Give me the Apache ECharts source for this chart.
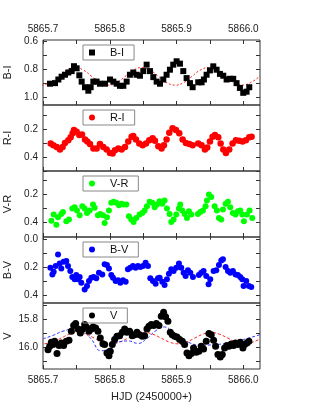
<!DOCTYPE html>
<html><head><meta charset="utf-8">
<script src="https://cdn.jsdelivr.net/npm/echarts@6/dist/echarts.min.js"></script>
<style>html,body{margin:0;padding:0;background:#fff}#c{width:311px;height:402px}</style>
</head><body><div id="c"></div>
<script>
// ---- data: [HJD, value] ----
const biData = [[5865.7105,0.900],[5865.7180,0.896],[5865.7230,0.870],[5865.7279,0.850],[5865.7329,0.836],[5865.7379,0.820],[5865.7429,0.810],[5865.7464,0.775],[5865.7504,0.790],[5865.7544,0.840],[5865.7579,0.885],[5865.7629,0.925],[5865.7679,0.950],[5865.7714,0.925],[5865.7754,0.885],[5865.7803,0.885],[5865.7853,0.900],[5865.7928,0.900],[5865.8003,0.870],[5865.8053,0.885],[5865.8103,0.900],[5865.8153,0.915],[5865.8203,0.915],[5865.8253,0.885],[5865.8302,0.836],[5865.8352,0.820],[5865.8402,0.836],[5865.8452,0.843],[5865.8502,0.810],[5865.8552,0.764],[5865.8602,0.810],[5865.8652,0.853],[5865.8702,0.885],[5865.8752,0.900],[5865.8801,0.870],[5865.8851,0.836],[5865.8901,0.800],[5865.8951,0.764],[5865.9001,0.740],[5865.9051,0.757],[5865.9101,0.810],[5865.9151,0.860],[5865.9201,0.896],[5865.9241,0.925],[5865.9325,0.890],[5865.9375,0.890],[5865.9410,0.870],[5865.9450,0.836],[5865.9500,0.805],[5865.9550,0.776],[5865.9600,0.800],[5865.9650,0.830],[5865.9700,0.843],[5865.9750,0.870],[5865.9799,0.865],[5865.9849,0.865],[5865.9899,0.896],[5865.9949,0.930],[5865.9999,0.965],[5866.0049,0.957],[5866.0089,0.925]];
const riData = [[5865.7115,0.304],[5865.7155,0.316],[5865.7205,0.328],[5865.7254,0.347],[5865.7294,0.328],[5865.7329,0.300],[5865.7379,0.280],[5865.7414,0.260],[5865.7444,0.230],[5865.7464,0.207],[5865.7504,0.220],[5865.7544,0.243],[5865.7584,0.239],[5865.7629,0.275],[5865.7664,0.290],[5865.7704,0.308],[5865.7754,0.340],[5865.7803,0.340],[5865.7853,0.308],[5865.7903,0.328],[5865.7953,0.347],[5865.8003,0.371],[5865.8043,0.376],[5865.8078,0.352],[5865.8128,0.340],[5865.8178,0.347],[5865.8228,0.328],[5865.8277,0.290],[5865.8327,0.255],[5865.8352,0.250],[5865.8392,0.275],[5865.8442,0.304],[5865.8492,0.316],[5865.8542,0.304],[5865.8592,0.280],[5865.8642,0.267],[5865.8677,0.284],[5865.8727,0.323],[5865.8776,0.340],[5865.8811,0.316],[5865.8851,0.275],[5865.8891,0.227],[5865.8941,0.195],[5865.8991,0.207],[5865.9041,0.231],[5865.9091,0.275],[5865.9141,0.300],[5865.9191,0.308],[5865.9241,0.316],[5865.9325,0.304],[5865.9375,0.316],[5865.9425,0.347],[5865.9460,0.333],[5865.9500,0.290],[5865.9540,0.255],[5865.9575,0.243],[5865.9625,0.260],[5865.9660,0.304],[5865.9700,0.347],[5865.9740,0.371],[5865.9789,0.347],[5865.9839,0.304],[5865.9889,0.280],[5865.9939,0.284],[5865.9989,0.290],[5866.0039,0.280],[5866.0089,0.260],[5866.0124,0.255]];
const vrData = [[5865.7125,0.386],[5865.7160,0.342],[5865.7200,0.414],[5865.7225,0.361],[5865.7274,0.337],[5865.7299,0.323],[5865.7349,0.390],[5865.7389,0.378],[5865.7439,0.299],[5865.7474,0.289],[5865.7509,0.313],[5865.7549,0.347],[5865.7589,0.282],[5865.7624,0.299],[5865.7659,0.330],[5865.7699,0.313],[5865.7749,0.270],[5865.7773,0.294],[5865.7823,0.347],[5865.7858,0.337],[5865.7898,0.347],[5865.7923,0.402],[5865.7958,0.361],[5865.7988,0.313],[5865.8023,0.258],[5865.8058,0.251],[5865.8098,0.258],[5865.8138,0.275],[5865.8173,0.265],[5865.8208,0.270],[5865.8248,0.270],[5865.8287,0.354],[5865.8322,0.378],[5865.8357,0.395],[5865.8397,0.366],[5865.8447,0.342],[5865.8487,0.330],[5865.8522,0.313],[5865.8557,0.282],[5865.8597,0.251],[5865.8637,0.258],[5865.8672,0.289],[5865.8707,0.270],[5865.8747,0.246],[5865.8786,0.265],[5865.8821,0.241],[5865.8856,0.299],[5865.8896,0.337],[5865.8921,0.395],[5865.8956,0.378],[5865.8996,0.342],[5865.9036,0.299],[5865.9056,0.270],[5865.9086,0.313],[5865.9121,0.337],[5865.9156,0.366],[5865.9186,0.318],[5865.9221,0.342],[5865.9320,0.337],[5865.9355,0.323],[5865.9395,0.313],[5865.9435,0.282],[5865.9455,0.241],[5865.9485,0.198],[5865.9520,0.217],[5865.9570,0.282],[5865.9605,0.313],[5865.9635,0.366],[5865.9670,0.378],[5865.9695,0.306],[5865.9735,0.265],[5865.9770,0.251],[5865.9804,0.289],[5865.9844,0.330],[5865.9884,0.342],[5865.9919,0.318],[5865.9954,0.313],[5865.9984,0.342],[5866.0009,0.390],[5866.0054,0.342],[5866.0094,0.313],[5866.0134,0.366]];
const bvData = [[5865.7110,0.200],[5865.7140,0.248],[5865.7160,0.229],[5865.7190,0.188],[5865.7225,0.105],[5865.7250,0.171],[5865.7274,0.205],[5865.7309,0.157],[5865.7349,0.152],[5865.7374,0.188],[5865.7409,0.224],[5865.7439,0.267],[5865.7474,0.283],[5865.7499,0.252],[5865.7524,0.283],[5865.7549,0.267],[5865.7574,0.307],[5865.7624,0.355],[5865.7659,0.331],[5865.7689,0.295],[5865.7724,0.271],[5865.7758,0.267],[5865.7798,0.276],[5865.7838,0.236],[5865.7888,0.248],[5865.7923,0.176],[5865.7958,0.181],[5865.7988,0.205],[5865.8023,0.252],[5865.8048,0.271],[5865.8088,0.295],[5865.8123,0.290],[5865.8158,0.307],[5865.8198,0.290],[5865.8238,0.300],[5865.8272,0.212],[5865.8307,0.200],[5865.8347,0.188],[5865.8387,0.200],[5865.8422,0.188],[5865.8457,0.195],[5865.8497,0.188],[5865.8537,0.164],[5865.8572,0.188],[5865.8607,0.276],[5865.8647,0.295],[5865.8687,0.314],[5865.8722,0.276],[5865.8747,0.271],[5865.8786,0.300],[5865.8821,0.324],[5865.8856,0.283],[5865.8886,0.243],[5865.8921,0.212],[5865.8956,0.224],[5865.8996,0.200],[5865.9036,0.171],[5865.9071,0.200],[5865.9106,0.236],[5865.9136,0.260],[5865.9171,0.219],[5865.9206,0.236],[5865.9246,0.267],[5865.9335,0.252],[5865.9370,0.236],[5865.9405,0.224],[5865.9445,0.260],[5865.9480,0.319],[5865.9505,0.283],[5865.9555,0.224],[5865.9595,0.219],[5865.9635,0.181],[5865.9670,0.148],[5865.9695,0.140],[5865.9735,0.195],[5865.9770,0.224],[5865.9804,0.236],[5865.9844,0.224],[5865.9884,0.248],[5865.9919,0.252],[5865.9954,0.267],[5865.9984,0.283],[5866.0004,0.331],[5866.0044,0.295],[5866.0084,0.331],[5866.0119,0.338]];
const vData = [[5865.7075,16.017],[5865.7100,15.993],[5865.7125,15.964],[5865.7150,15.981],[5865.7175,15.957],[5865.7210,16.045],[5865.7240,15.988],[5865.7274,15.969],[5865.7309,15.988],[5865.7349,15.957],[5865.7389,15.950],[5865.7424,15.886],[5865.7459,15.845],[5865.7489,15.831],[5865.7524,15.869],[5865.7559,15.898],[5865.7589,15.874],[5865.7624,15.838],[5865.7649,15.855],[5865.7689,15.886],[5865.7724,15.869],[5865.7749,15.855],[5865.7788,15.862],[5865.7823,15.886],[5865.7858,15.933],[5865.7898,15.974],[5865.7923,15.981],[5865.7958,16.040],[5865.7988,16.060],[5865.8008,16.029],[5865.8038,15.981],[5865.8073,15.945],[5865.8108,15.921],[5865.8148,15.917],[5865.8188,15.893],[5865.8223,15.869],[5865.8257,15.893],[5865.8297,15.886],[5865.8337,15.917],[5865.8372,15.910],[5865.8407,15.893],[5865.8447,15.910],[5865.8487,15.921],[5865.8522,15.917],[5865.8557,15.869],[5865.8587,15.850],[5865.8622,15.838],[5865.8657,15.845],[5865.8697,15.831],[5865.8737,15.845],[5865.8771,15.779],[5865.8806,15.750],[5865.8836,15.783],[5865.8871,15.814],[5865.8906,15.893],[5865.8936,15.910],[5865.8971,15.921],[5865.9006,15.926],[5865.9046,15.945],[5865.9086,15.957],[5865.9121,15.981],[5865.9156,16.040],[5865.9186,16.060],[5865.9221,16.045],[5865.9255,16.005],[5865.9295,16.036],[5865.9335,16.029],[5865.9370,15.993],[5865.9405,16.012],[5865.9445,15.957],[5865.9485,15.902],[5865.9520,15.910],[5865.9555,15.950],[5865.9585,15.993],[5865.9620,16.052],[5865.9655,16.069],[5865.9685,16.052],[5865.9720,16.005],[5865.9754,15.988],[5865.9784,15.993],[5865.9819,15.976],[5865.9854,15.988],[5865.9884,15.969],[5865.9919,15.981],[5865.9954,15.964],[5865.9994,16.005],[5866.0019,15.981],[5866.0054,15.969],[5866.0084,15.957]];
// dashed model curves
const biFitRed = [[5865.698,0.910],[5865.7105,0.893],[5865.723,0.848],[5865.7355,0.803],[5865.748,0.785],[5865.7605,0.803],[5865.773,0.848],[5865.7855,0.893],[5865.798,0.910],[5865.8105,0.893],[5865.823,0.848],[5865.8355,0.803],[5865.848,0.785],[5865.8605,0.803],[5865.873,0.848],[5865.8855,0.893],[5865.898,0.910],[5865.9105,0.893],[5865.923,0.848],[5865.9355,0.803],[5865.948,0.785],[5865.9605,0.803],[5865.973,0.848],[5865.9855,0.893],[5865.998,0.910],[5866.0105,0.893],[5866.025,0.845]];
const vFitRed = [[5865.702,15.975],[5865.7145,15.963],[5865.727,15.935],[5865.7395,15.907],[5865.752,15.895],[5865.7645,15.907],[5865.777,15.935],[5865.7895,15.963],[5865.802,15.975],[5865.8145,15.963],[5865.827,15.935],[5865.8395,15.907],[5865.852,15.895],[5865.8645,15.907],[5865.877,15.935],[5865.8895,15.963],[5865.902,15.975],[5865.9145,15.963],[5865.927,15.935],[5865.9395,15.907],[5865.952,15.895],[5865.9645,15.907],[5865.977,15.935],[5865.9895,15.963],[5866.002,15.975],[5866.0145,15.963],[5866.025,15.940]];
const vFitBlue = [[5865.700,15.940],[5865.715,15.915],[5865.730,15.885],[5865.747,15.870],[5865.760,15.890],[5865.772,15.940],[5865.787,16.025],[5865.800,16.005],[5865.815,15.960],[5865.828,15.955],[5865.842,15.972],[5865.855,15.940],[5865.868,15.885],[5865.882,15.855],[5865.895,15.895],[5865.905,15.930],[5865.918,15.965],[5865.935,15.985],[5865.960,15.980],[5865.980,15.968],[5866.000,15.945],[5866.025,15.910]];
// tick labels
const xLabels = [5865.7, 5865.8, 5865.9, 5866.0];
const xTicks = [5865.7, 5865.75, 5865.8, 5865.85, 5865.9, 5865.95, 5866.0];
const panelNames = ['B-I', 'R-I', 'V-R', 'B-V', 'V'];
const yRanges = [[0.588, 1.052], [0.029, 0.5], [0.031, 0.502], [-0.019, 0.452], [15.684, 16.155]];
const yLabels = [[0.6, 0.8, 1.0], [0.2, 0.4], [0.2, 0.4], [0.0, 0.2, 0.4], [15.8, 16.0]];
const yTicks = [[0.6, 0.7, 0.8, 0.9, 1.0], [0.1, 0.2, 0.3, 0.4, 0.5], [0.1, 0.2, 0.3, 0.4], [0.0, 0.1, 0.2, 0.3, 0.4], [15.7, 15.8, 15.9, 16.0, 16.1]];

const FONT = 'Liberation Sans, Arial, sans-serif';
const tops = [40, 105, 171, 237, 303];
const bottoms = [105, 171, 237, 303, 369];
const chart = echarts.init(document.getElementById('c'), null, {renderer: 'canvas'});

const grid = tops.map((t, i) => ({left: 43, width: 217, top: t, height: bottoms[i] - t, show: true, borderColor: '#333', borderWidth: 1, containLabel: false, outerBoundsMode: 'none'}));
const xBase = (gi, showLabel, pos) => ({
  type: 'value', gridIndex: gi, position: pos, min: 5865.7, max: 5866.025,
  axisLine: {show: false}, splitLine: {show: false},
  axisTick: {show: true, inside: true, length: 4, customValues: xTicks, lineStyle: {color: '#333'}},
  axisLabel: {show: showLabel, customValues: xLabels, formatter: v => v.toFixed(1), fontSize: 10, color: '#222', fontFamily: FONT, margin: 6}
});
const xAxis = [0, 1, 2, 3, 4].map(i => {
  const a = xBase(i, i === 4, 'bottom');
  if (i === 4) { a.name = 'HJD (2450000+)'; a.nameLocation = 'middle'; a.nameGap = 22; a.nameTextStyle = {fontSize: 11, color: '#222', fontFamily: FONT}; }
  return a;
});
xAxis.push(xBase(0, true, 'top'));

const yAxis = [];
for (let i = 0; i < 5; i++) {
  const common = {type: 'value', gridIndex: i, inverse: true, min: yRanges[i][0], max: yRanges[i][1], splitLine: {show: false}, axisLine: {show: false}};
  yAxis.push(Object.assign({}, common, {
    position: 'left', name: panelNames[i], nameLocation: 'middle', nameGap: 30, nameRotate: 90, nameMoveOverlap: false,
    nameTextStyle: {fontSize: 11, color: '#222', fontFamily: FONT},
    axisTick: {show: true, inside: true, length: 4, customValues: yTicks[i], lineStyle: {color: '#333'}},
    axisLabel: {show: true, customValues: yLabels[i], formatter: v => v.toFixed(1), fontSize: 10, color: '#222', fontFamily: FONT, margin: 5}
  }));
  yAxis.push(Object.assign({}, common, {
    position: 'right',
    axisTick: {show: true, inside: true, length: 4, customValues: yTicks[i], lineStyle: {color: '#333'}},
    axisLabel: {show: false}
  }));
}

const dots = (name, data, i, symbol, size, color) => ({
  name, type: 'scatter', xAxisIndex: i, yAxisIndex: 2 * i, data, symbol, symbolSize: size,
  itemStyle: {color, opacity: 1}, z: 3, silent: true
});
const fit = (data, i, color, dash) => ({
  type: 'line', xAxisIndex: i, yAxisIndex: 2 * i, data, smooth: 0.5, symbol: 'none', clip: true,
  lineStyle: {color, width: 1, type: dash}, z: 2, silent: true
});

const series = [
  fit(biFitRed, 0, '#ff2020', [2, 2]),
  fit(vFitRed, 4, '#ff2020', [3, 2]),
  fit(vFitBlue, 4, '#3030ff', [3, 2]),
  dots('B-I', biData, 0, 'rect', 6, '#000000'),
  dots('R-I', riData, 1, 'circle', 6.5, '#ff0000'),
  dots('V-R', vrData, 2, 'circle', 6, '#00ff00'),
  dots('B-V', bvData, 3, 'circle', 6, '#0000ff'),
  dots('V', vData, 4, 'circle', 7, '#000000')
];

const legend = panelNames.map((n, i) => ({
  data: [i === 0 ? {name: n, icon: 'path://M0,0L10,0L10,10L0,10Z'} : n], left: 83, top: tops[i] + 5, orient: 'horizontal',
  itemWidth: 22, itemHeight: 6, itemGap: 0, symbolKeepAspect: true,
  padding: [2, 10, 2, 6], borderColor: '#888', borderWidth: 1, borderRadius: 0,
  textStyle: {fontSize: 11, color: '#111', fontFamily: FONT, padding: [0, 0, 0, 2]},
  selectedMode: false
}));

chart.setOption({animation: false, backgroundColor: '#fff', grid, xAxis, yAxis, series, legend});
</script></body></html>
